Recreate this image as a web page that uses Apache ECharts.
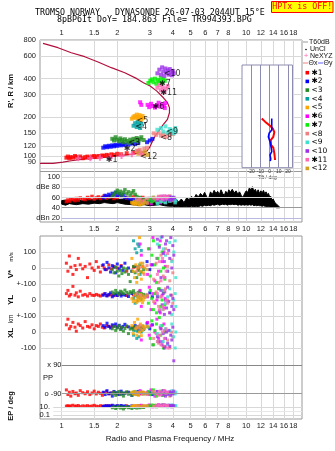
<!DOCTYPE html>
<html><head><meta charset="utf-8">
<script src="https://cdn.jsdelivr.net/npm/echarts@6/dist/echarts.min.js"></script>
<style>html,body{margin:0;padding:0;background:#fff}#c{width:335px;height:451px}</style>
</head><body><div id="c"></div><script>
// ---------------- data ----------------
const freqTicksTop = [1,1.5,2,3,4,5,6,7,8,10,12,14,16,18];
const freqTicksMid = [1,1.5,2,3,4,5,6,7,8,9,10,12,14,16,18];
const heightTicks = [80,90,100,120,150,200,300,400,600,800];
const ampTicks = [100,80,60,40,20];
const tiltTicks = [-20,-10,0,10,20];

const seriesNames = ['✱1','✱2','<3','<4','<5','✱6','✱7','<8','<9','<10','✱11','<12'];
const seriesColors = ['#ff0000','#0000ff','#228b22','#00a0a0','#ffa500','#ff00ff','#00ee00','#f08080','#40e0d0','#9b30e8','#ff69b4','#d4a020'];

// echo records: [freq MHz, virtual height km, amplitude dB, V* m/s, YL km, XL km, PP deg, EP deg]
const echoes1 = [
[1.06,97,52,30,40,45,-70,15],[1.08,99,55,-20,60,80,-100,20],[1.10,96,53,75,25,20,-85,12],
[1.12,98,57,5,35,35,-110,18],[1.15,97,56,-40,85,60,-80,25],[1.18,100,54,15,30,30,-95,14],
[1.20,98,58,-10,45,5,-90,16],[1.23,97,55,60,20,50,-105,22],[1.26,99,59,20,55,40,-75,12],
[1.30,96,57,-5,30,25,-88,18],[1.34,98,56,10,35,65,-95,15],[1.38,99,60,-60,25,35,-82,20],
[1.42,97,58,25,40,30,-100,13],[1.46,99,62,0,30,45,-90,17],[1.50,100,57,-15,28,20,-78,24],
[1.54,98,59,40,35,40,-96,15],[1.58,100,61,5,30,35,-85,12],[1.62,99,58,-25,25,50,-92,19],
[1.66,101,60,15,32,30,-105,16],[1.70,100,63,0,38,25,-88,14],[1.75,102,59,-10,28,40,-80,20],
[1.80,101,61,20,30,35,-95,15],[1.86,103,62,-5,33,30,-90,18],[1.92,102,58,10,27,38,-85,13],
[2.00,104,60,0,30,32,-98,17],[2.10,103,63,15,35,28,-92,15],[2.25,105,59,-20,28,35,-87,19],
[2.45,106,61,5,32,30,-95,14],[2.60,109,58,-10,30,33,-90,16],[2.75,104,60,10,26,30,-85,12]];
const echoes2 = [
[1.68,116,60,20,30,40,-85,12],[1.72,119,64,-10,40,30,-100,18],[1.76,117,62,35,25,55,-75,15],
[1.80,120,66,0,35,35,-95,20],[1.84,118,63,-25,45,25,-90,14],[1.88,121,68,15,20,45,-110,25],
[1.92,119,65,5,30,38,-80,16],[1.96,122,70,-30,38,50,-92,13],[2.00,120,64,25,28,30,-88,19],
[2.05,123,67,-5,42,42,-100,15],[2.10,121,62,10,25,20,-78,22],[2.15,124,66,-15,35,35,-95,14],
[2.20,122,60,30,30,48,-90,17],[2.30,123,58,0,22,32,-85,12],[2.40,125,56,-20,40,25,-105,18],
[2.50,124,55,10,28,40,-92,15],[2.60,126,54,5,18,30,-80,20],[2.90,128,50,40,30,55,-95,13],
[3.00,132,52,-10,45,20,-88,16],[3.10,136,55,20,20,45,-100,14]];
const echoes3 = [
[1.88,136,62,-10,50,20,-95,6],[1.92,132,66,-30,40,35,-85,10],[1.96,140,70,5,60,10,-105,4],
[2.00,134,74,-20,45,25,-90,8],[2.04,130,68,-50,35,40,-80,12],[2.08,137,72,-15,55,15,-100,5],
[2.12,133,65,-35,50,30,-88,9],[2.16,128,70,0,40,5,-110,3],[2.20,135,75,-25,62,22,-92,7],
[2.25,131,67,-5,48,38,-82,11],[2.30,127,71,-40,38,-10,-98,6],[2.35,134,64,-85,52,18,-90,8],
[2.40,129,69,-20,45,28,-105,4],[2.45,136,73,10,58,12,-85,10],[2.50,132,66,-30,42,35,-95,7],
[2.55,138,62,-60,30,20,-88,5],[2.60,130,58,-15,48,8,-100,9],[2.65,135,60,20,55,25,-92,6],
[2.70,140,55,-25,40,30,-86,8],[2.78,133,57,-10,35,15,-96,7]];
const echoes4 = [
[2.45,172,50,170,10,-20,-90,10],[2.50,180,48,120,-20,10,-80,15],[2.55,168,52,95,25,-40,-100,8],
[2.58,185,49,150,-5,5,-85,12],[2.62,176,51,135,15,-30,-95,20],[2.66,165,47,-40,30,15,-88,9],
[2.70,178,50,110,5,0,-92,14]];
const echoes5 = [
[2.40,195,50,60,10,40,-85,12],[2.44,200,48,-20,-10,-10,-95,18],[2.48,205,52,-60,30,60,-80,14],
[2.52,198,47,20,0,20,-100,22],[2.55,210,51,-90,-15,-20,-90,10],[2.58,202,49,0,20,80,-88,16],
[2.61,195,53,-40,5,30,-105,20],[2.64,208,46,190,-5,0,-92,13],[2.67,200,50,30,35,50,-82,17],
[2.70,192,48,-70,15,-23,-96,11],[2.74,205,52,10,-17,10,-90,15],[2.77,198,49,-30,0,35,-86,19]];
const echoes6 = [
[2.66,262,55,150,60,20,-75,15],[2.70,250,52,80,-40,-50,-95,25],[2.92,250,50,-40,20,60,-85,12],
[2.98,240,58,120,80,-20,-100,30],[3.05,255,48,20,-60,40,-70,18],[3.12,245,54,190,40,-80,-90,10],
[3.20,238,56,-80,-20,0,-110,22],[3.28,248,52,60,0,80,-80,14],[3.35,260,60,-20,70,-40,-95,35],
[3.42,242,50,170,-80,30,-88,16],[3.50,252,55,40,30,-60,-105,20],[3.58,246,53,100,-50,50,-92,12],
[3.62,236,57,-60,50,10,-78,28],[3.64,258,51,10,10,-90,-98,17]];
const echoes7 = [
[2.95,370,55,120,-20,30,-80,20],[3.02,385,58,-50,60,-40,-100,12],[3.08,395,52,80,10,70,-90,30],
[3.14,375,60,170,-60,-80,-70,15],[3.20,400,54,20,40,10,-95,25],[3.26,365,57,-90,-80,50,-110,10],
[3.32,390,50,60,20,-60,-85,18],[3.38,380,56,140,70,90,-92,22],[3.44,405,59,-20,-40,-20,-78,14],
[3.50,372,53,100,0,40,-88,28],[3.56,395,55,0,50,-100,-105,16],[3.62,385,52,-70,-30,0,-95,12]];
const echoes8 = [
[2.55,110,55,-20,40,30,-90,15],[2.65,112,57,5,30,40,-85,12],[2.80,114,54,-40,20,20,-95,18],
[2.90,116,58,15,35,35,-100,20],[3.15,150,60,-70,-10,-40,-80,14],[3.25,146,56,30,50,-10,-92,25],
[3.35,152,62,-90,-40,-70,-105,16],[3.45,144,58,80,20,20,-88,12],[3.55,148,55,-50,-60,-90,-75,30],
[3.65,141,60,120,70,10,-98,18],[3.75,150,57,10,0,-50,-90,22],[3.85,145,63,-80,-80,-100,-110,14],
[3.95,153,54,50,30,0,-85,20],[4.00,148,59,-30,-20,-30,-95,16]];
const echoes9 = [
[3.30,160,48,150,30,-10,-85,15],[3.45,165,52,190,-60,40,-95,20],[3.55,155,55,120,60,-60,-80,12],
[3.65,170,50,80,-20,20,-90,25],[3.75,152,58,-20,20,-80,-100,10],[3.85,162,53,160,70,10,-88,18],
[3.95,158,60,40,-90,50,-75,30],[4.05,150,56,100,0,-30,-92,14],[4.12,165,50,170,40,-100,-96,22],
[4.15,155,54,-60,-40,0,-84,16]];
const echoes10 = [
[3.30,440,55,180,20,-30,-80,20],[3.38,470,58,130,-70,-60,-95,14],[3.45,430,60,-60,60,20,-88,25],
[3.50,490,62,195,-30,-80,-100,12],[3.55,455,57,90,40,-10,-75,30],[3.60,420,55,40,-90,-100,-92,16],
[3.65,480,60,150,0,-40,-110,22],[3.70,445,62,170,-50,0,-85,18],[3.75,465,58,-20,80,-70,-98,12],
[3.80,430,56,110,-10,10,-90,28],[3.85,475,61,60,-80,-90,-82,15],[3.90,450,55,190,30,-20,-105,20],
[3.95,425,59,0,-40,-50,-88,10],[4.00,460,57,140,10,30,-95,24],[4.05,440,60,80,-60,-180,-78,17]];
const echoes11 = [
[3.30,340,58,-40,40,-60,-95,20],[3.38,355,60,40,-60,-20,-80,25],[3.45,325,62,-80,20,-80,-100,14],
[3.52,345,57,60,-40,0,-88,18],[3.60,315,63,-60,60,-40,-75,30],[3.68,335,59,-20,0,20,-92,16],
[3.75,350,61,90,-20,-100,-85,22]];
const echoes12 = [
[2.60,104,50,10,20,30,-90,15],[2.68,106,52,-20,10,20,-85,12],[2.75,103,48,30,30,40,-95,18],
[2.82,108,51,0,15,25,-88,14],[2.90,102,49,-10,25,35,-92,16]];
const allEchoes = [echoes1,echoes2,echoes3,echoes4,echoes5,echoes6,echoes7,echoes8,echoes9,echoes10,echoes11,echoes12];

// trace label anchors [freq, height]
const traceLabelAt = [[1.80,93],[2.25,113],[2.38,127],[2.6,167],[2.64,188],[3.22,242],[3.5,362],[3.55,139],[3.83,154],[3.71,437],[3.55,309],[2.77,99]];

// true-height profile [plasma freq MHz, real height km]
const profileCurve = [[0.763,87.6],[0.897,87.6],[1.016,89.7],[1.127,91.8],[1.277,94],[1.574,96.4],[1.939,99.9],[2.386,103],[2.594,105],[2.893,109],[2.988,116],[3.078,127],[3.208,143],[3.343,156],[3.558,176],[3.741,193],[3.836,217],[3.836,238],[3.741,260],[3.558,284],[3.278,320],[3.015,351],[2.772,372],[2.553,400],[2.197,445],[1.858,487],[1.574,539],[1.333,593],[1.127,637],[0.955,697],[0.792,754]];

// NeXYZ markers [freq, height]
const neXYZ = [[1.23,96],[1.43,96],[1.61,97],[1.83,97],[2.11,100],[2.4,103],[2.7,104]];

// noise/amplitude envelope [freq, low dB, high dB]
const ampEnvelope = [[1.0,47,54],[1.05,45,55],[1.1,48,53],[1.2,46,56],[1.3,48,54],[1.4,47,57],[1.5,49,55],[1.6,48,58],[1.7,50,56],[1.8,49,57],[1.9,48,58],[2.0,50,56],[2.2,47,57],[2.4,46,55],[2.6,45,54],[2.8,46,56],[3.0,44,55],[3.2,45,53],[3.4,46,55],[3.6,44,54],[3.8,43,56],[4.0,43,55],
[4.15,42,58],[4.3,42,51],[4.45,41,57],[4.6,42,50],[4.75,42,59],[4.9,41,56],[5.05,43,62],[5.2,42,58],[5.35,43,66],[5.5,42,61],[5.65,44,68],[5.8,43,63],[5.95,45,70],[6.1,44,62],[6.25,45,58],[6.4,44,71],[6.55,46,66],[6.7,45,74],[6.85,46,68],[7.0,47,72],[7.15,45,66],[7.3,46,75],[7.45,47,68],[7.6,46,64],[7.75,47,72],[7.9,45,67],[8.05,47,75],[8.2,46,70],[8.4,47,76],[8.6,46,69],[8.8,47,73],[9.0,45,67],[9.2,46,71],[9.4,45,64],[9.6,46,60],[9.8,45,68],[10.0,46,73],[10.2,45,70],[10.4,46,79],[10.6,45,74],[10.8,46,81],[11.0,44,72],[11.2,45,76],[11.4,44,69],[11.6,45,75],[11.8,44,68],[12.0,44,73],[12.2,43,69],[12.4,44,74],[12.6,43,67],[12.8,43,71],[13.0,42,66],[13.2,42,68],[13.4,42,61],[13.6,41,62],[13.8,41,55],[14.0,41,57],[14.3,41,50],[14.6,40,47],[14.9,40,44],[15.2,40,41]];

// tilt profiles [tilt deg, height km]
const tiltX = [[-8.5,196],[-4.9,185],[0.5,172],[3.5,164],[5.2,153],[4.1,141],[1.3,133],[1.6,122],[4.1,116],[5.2,105],[6.0,93]];
const tiltY = [[2.4,196],[2.4,159],[-0.5,150],[-1.3,141],[0.5,129],[1.6,118],[2.4,108],[0.5,102],[1.3,95],[0.8,91]];

// ---------------- chart ----------------
const F_MIN = 0.7627, F_MAX = 20.05;
const LBL = {fontFamily:'Liberation Sans', fontSize:7.5, color:'#222'};
const GRIDC = '#d8d8d8';
const fmtNum = v => String(+(+v).toPrecision(3));

function fAxis(gi, extra){
  return Object.assign({type:'log', logBase:10, gridIndex:gi, min:F_MIN, max:F_MAX,
    axisLine:{show:false}, axisTick:{show:false}, axisLabel:{show:false}, splitLine:{show:false}}, extra||{});
}
function fAxisLab(gi, pos, ticks, grid){
  return fAxis(gi, {position:pos,
    axisTick:{show:false, customValues:ticks},
    axisLabel:Object.assign({show:true, customValues:ticks, margin:3, formatter:fmtNum, hideOverlap:false}, LBL),
    splitLine:{show:grid, lineStyle:{color:GRIDC, width:1}}});
}

const grids = [
  {left:40, top:40, width:262, height:131.5, show:true, borderColor:'#999', borderWidth:1},
  {left:40, top:171.5, width:262, height:50.5, show:true, borderColor:'#999', borderWidth:1},
  {left:40, top:236, width:262, height:48},
  {left:40, top:284, width:262, height:32},
  {left:40, top:316, width:262, height:48},
  {left:40, top:365, width:262, height:35},
  {left:40, top:400, width:262, height:19},
  {left:242, top:65, width:50.5, height:102.7, show:true, backgroundColor:'#fff', borderColor:'#8c8cb0', borderWidth:1, z:1},
  {left:40, top:236, width:262, height:183, show:true, borderColor:'#999', borderWidth:1}
].map(g => Object.assign({containLabel:false, outerBoundsMode:'none'}, g));

const xAxes = [
  fAxisLab(0,'top',freqTicksTop,true),
  fAxisLab(1,'bottom',freqTicksMid,true),
  fAxis(2), fAxis(3), fAxis(4), fAxis(5), fAxis(6),
  {type:'value', gridIndex:7, min:-30, max:25, z:2,
   axisLine:{show:false}, axisTick:{show:false, customValues:tiltTicks},
   axisLabel:{show:true, customValues:tiltTicks, margin:1, fontSize:5, fontFamily:'Liberation Sans', color:'#333'},
   splitLine:{show:true, lineStyle:{color:'#8c8cb0', width:1}},
   name:'Tilt / deg', nameLocation:'middle', nameGap:7, nameTextStyle:{fontSize:5, fontFamily:'Liberation Sans', color:'#333'}},
  fAxisLab(8,'bottom',freqTicksTop,true)
];

function vAxis(gi, min, max, ticks, fmt){
  return {type:'value', gridIndex:gi, min, max,
    axisLine:{show:false}, axisTick:{show:false, customValues:ticks},
    axisLabel:Object.assign({show:true, customValues:ticks, margin:4, formatter:fmt, hideOverlap:false}, LBL),
    splitLine:{show:true, lineStyle:{color:GRIDC, width:1}}};
}
const yAxes = [
  {type:'log', logBase:10, gridIndex:0, min:75.7, max:800,
   axisLine:{show:false}, axisTick:{show:false, customValues:heightTicks},
   axisLabel:Object.assign({show:true, customValues:heightTicks, margin:4, formatter:fmtNum, hideOverlap:false}, LBL),
   splitLine:{show:true, lineStyle:{color:GRIDC, width:1}}},
  {type:'value', gridIndex:1, min:12.2, max:110.7, offset:-22,
   axisLine:{show:false}, axisTick:{show:false, customValues:ampTicks},
   axisLabel:Object.assign({show:true, customValues:ampTicks, margin:2, hideOverlap:false,
     formatter:v => v==80?'dBe 80':(v==20?'dBn 20':String(v))}, LBL),
   splitLine:{show:false}},
  vAxis(2,-100,200,[100,0,-100], v => v==-100?'+-100':String(v)),
  vAxis(3,-100,100,[0,-100], v => v==-100?'+-100':String(v)),
  vAxis(4,-200,100,[0,-100], v => String(v)),
  {type:'value', gridIndex:5, min:-135, max:90, show:false},
  {type:'log', logBase:10, gridIndex:6, min:0.01, max:500, show:false},
  {type:'log', logBase:10, gridIndex:7, min:81, max:511, show:false, z:2},
  {type:'value', gridIndex:8, min:0, max:1, show:false}
];

const series = [];
// reference lines
const refLine = (x0, x1, y, color, w) => [{coord:[x0,y], lineStyle:{color, width:w, type:'solid'}}, {coord:[x1,y]}];
const ML = data => ({silent:true, symbol:'none', label:{show:false}, animation:false,
  lineStyle:{type:'solid'}, emphasis:{disabled:true}, data});
series.push({type:'scatter', xAxisIndex:1, yAxisIndex:1, data:[], silent:true,
  markLine:ML([refLine(1,F_MAX,100,GRIDC,1), refLine(1,F_MAX,80,GRIDC,1), refLine(1,F_MAX,60,GRIDC,1),
          refLine(1,F_MAX,40,'#999',1), refLine(1,F_MAX,20,'#b8b8e0',1)])});
series.push({type:'scatter', xAxisIndex:5, yAxisIndex:5, data:[], silent:true,
  markLine:ML([refLine(1,F_MAX,90,'#888',1.2), refLine(1,F_MAX,-90,'#999',1)])});
series.push({type:'scatter', xAxisIndex:6, yAxisIndex:6, data:[], silent:true,
  markLine:ML([refLine(0.9,F_MAX,10,GRIDC,1), refLine(0.9,F_MAX,1,'#e8e8e8',1), refLine(0.9,F_MAX,0.1,GRIDC,1)])});

// profile
series.push({type:'line', xAxisIndex:0, yAxisIndex:0, data:profileCurve, symbol:'none', silent:true,
  lineStyle:{color:'#b0103c', width:1.2}, z:2});
// amplitude envelope (filled band between low and high)
series.push({type:'custom', xAxisIndex:1, yAxisIndex:1, silent:true, z:2,
  data:ampEnvelope, encode:{x:0, y:[1,2]},
  renderItem:(params, api) => {
    if (params.dataIndex !== 0) return null;
    const top = ampEnvelope.map(r => api.coord([r[0], r[2]]));
    const bot = ampEnvelope.slice().reverse().map(r => api.coord([r[0], r[1]]));
    return {type:'polygon', shape:{points:top.concat(bot)}, style:{fill:'#000', stroke:'#000', lineWidth:1}};
  }});

// echoes in every panel
const panels = [[0,1,4],[1,2,3.5],[2,3,3],[3,4,3],[4,5,3],[5,6,3],[6,7,3]];
allEchoes.forEach((recs, k) => {
  panels.forEach(([ax, col, size]) => {
    series.push({type:'scatter', name:seriesNames[k], xAxisIndex:ax, yAxisIndex:ax, silent:true,
      symbol:'rect', symbolSize:size, itemStyle:{color:seriesColors[k]}, z:3,
      data:recs.map(r => [r[0], r[col]])});
  });
});
// NeXYZ markers
series.push({type:'scatter', xAxisIndex:0, yAxisIndex:0, silent:true, z:4,
  symbol:'path://M-1,-3H1V-1H3V1H1V3H-1V1H-3V-1H-1Z', symbolSize:6, itemStyle:{color:'#ff69b4'}, data:neXYZ});
// trace labels
series.push({type:'scatter', xAxisIndex:0, yAxisIndex:0, silent:true, z:5, symbolSize:0,
  data:traceLabelAt.map((p,k)=>({value:p, name:seriesNames[k]})),
  label:{show:true, position:'inside', align:'left', offset:[-3,0], formatter:p=>p.name,
    fontFamily:'DejaVu Sans', fontSize:8, color:'#000'}});
// tilt profiles
series.push({type:'line', xAxisIndex:7, yAxisIndex:7, data:tiltX, symbol:'none', silent:true, z:4,
  lineStyle:{color:'#ff0000', width:2}});
series.push({type:'line', xAxisIndex:7, yAxisIndex:7, data:tiltY, symbol:'none', silent:true, z:4,
  lineStyle:{color:'#0000ff', width:1.6}});

// ---------------- graphics (text, legend) ----------------
const MONO = '"DejaVu Sans Mono"';
const g = [];
const txt = (x,y,text,o) => g.push(Object.assign({type:'text', x, y, silent:true,
  style:Object.assign({text, fontFamily:'Liberation Sans', fontSize:7.5, fill:'#111', align:'left', verticalAlign:'middle'}, (o&&o.style)||{})},
  o&&o.rotation!==undefined?{rotation:o.rotation}:{}));
txt(35,12.7,'TROMSO NORWAY   DYNASONDE 26-07-03 2044UT 15°E',{style:{fontFamily:MONO, fontSize:8.3, fill:'#000'}});
txt(57,20,'8pBP6It DoY= 184.863 File= TR994393.BPG',{style:{fontFamily:MONO, fontSize:8.3, fill:'#000'}});
g.push({type:'rect', shape:{x:271.5,y:1.5,width:61.5,height:11}, style:{fill:'#ffff00', stroke:'#ff0000', lineWidth:1}, silent:true});
txt(302.3,7.2,'HPTx is OFF!',{style:{fontFamily:MONO, fontSize:8.3, fill:'#ff0000', align:'center'}});

// upper legend
g.push({type:'line', shape:{x1:303,y1:42,x2:308,y2:42}, style:{stroke:'#999', lineWidth:1}, silent:true});
txt(309,42,'T60dB',{style:{fontSize:7}});
g.push({type:'circle', shape:{cx:306,cy:49.5,r:0.8}, style:{fill:'#000'}, silent:true});
txt(310,49,'UnCl',{style:{fontSize:7}});
txt(306,56,'+',{style:{fontSize:8, fill:'#ff69b4', align:'center'}});
txt(310,56,'NeXYZ',{style:{fontSize:7}});
g.push({type:'line', shape:{x1:303,y1:63,x2:308,y2:63}, style:{stroke:'#f08080', lineWidth:1}, silent:true});
txt(308.5,63,'Θx',{style:{fontSize:7}});
g.push({type:'line', shape:{x1:318,y1:63,x2:323,y2:63}, style:{stroke:'#6060ff', lineWidth:1}, silent:true});
txt(323.5,63,'Θy',{style:{fontSize:7}});
// series legend
seriesNames.forEach((n,k) => {
  const y = 72.7 + 8.7*k;
  g.push({type:'rect', shape:{x:305.5,y:y-1.8,width:3.6,height:3.6}, style:{fill:seriesColors[k]}, silent:true});
  txt(311.5,y,n,{style:{fontFamily:'DejaVu Sans', fontSize:7.5, fill:'#000'}});
});

// rotated axis names
const R = Math.PI/2;
txt(11,91,"R', R / km",{rotation:R, style:{align:'center', fontSize:7.5, fontWeight:'bold'}});
txt(11,274,'V*',{rotation:R, style:{align:'center', fontSize:8, fontWeight:'bold'}});
txt(11,257,'m/s',{rotation:R, style:{align:'center', fontSize:6}});
txt(11,300,'YL',{rotation:R, style:{align:'center', fontSize:8, fontWeight:'bold'}});
txt(11,333,'XL',{rotation:R, style:{align:'center', fontSize:8, fontWeight:'bold'}});
txt(11,319,'km',{rotation:R, style:{align:'center', fontSize:6.5}});
txt(11,406,'EP / deg',{rotation:R, style:{align:'center', fontSize:7.5, fontWeight:'bold'}});
// PP / EP labels inside the frame
txt(61.5,365,'x 90',{style:{align:'right'}});
txt(43,378,'PP',{style:{align:'left'}});
txt(61.5,394,'o -90',{style:{align:'right'}});
txt(50,407,'10.',{style:{align:'right'}});
txt(50,415,'0.1',{style:{align:'right'}});
// x-axis title
txt(170,439,'Radio and Plasma Frequency / MHz',{style:{align:'center', fontSize:8}});

const chart = echarts.init(document.getElementById('c'), null, {renderer:'canvas'});
chart.setOption({
  animation:false, backgroundColor:'#fff',
  grid:grids, xAxis:xAxes, yAxis:yAxes, series, graphic:{elements:g}
});
</script></body></html>
